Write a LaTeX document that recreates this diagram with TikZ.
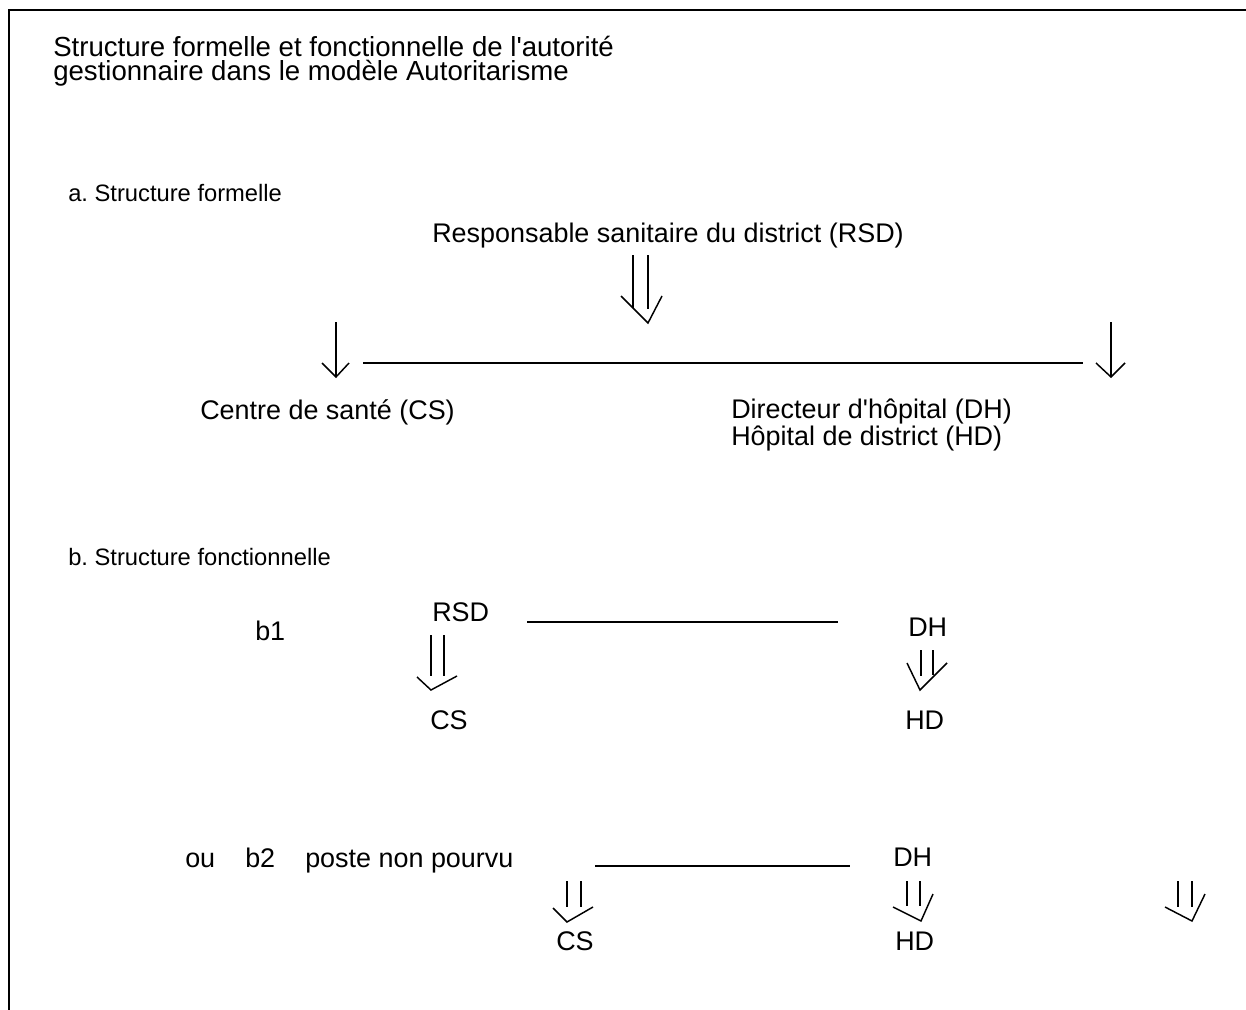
\documentclass[tikz,border=0pt]{standalone}
\usepackage{fontspec}
\setmainfont{Liberation Sans}[Ligatures=TeXOff]
\frenchspacing
\begin{document}
\begin{tikzpicture}[x=0.75pt,y=-0.75pt,
  lbl/.style={anchor=base west,inner sep=0pt,font=\fontsize{20.2}{18}\selectfont},
  head/.style={lbl,font=\fontsize{17.8}{18}\selectfont},
  stroke/.style={line width=1.1pt,line cap=butt,line join=miter},
  link/.style={line width=1.2pt},
  frame/.style={line width=1.6pt}]
\useasboundingbox (0,0) rectangle (1246,1010);
% open frame: left and top edges only
\draw[frame] (9,1010) -- (9,10) -- (1246,10);

% title, two lines (anchored on the last baseline)
\node[lbl,align=left,font=\fontsize{20.7}{18}\selectfont] (title) at (53,80)
  {Structure formelle et fonctionnelle de l'autorité\\gestionnaire dans le modèle Autoritarisme};

% a. formal structure
\node[head] (secA) at (68,201) {a. Structure formelle};
\node[lbl] (rsdA) at (432,242) {Responsable sanitaire du district (RSD)};
\node[lbl] (csA) at (200,419) {Centre de santé (CS)};
\node[lbl] (dhA) at (731,418) {Directeur d'hôpital (DH)};
\node[lbl] (hdA) at (731,445) {Hôpital de district (HD)};

\coordinate (rsdTip) at (648,323);
\draw[stroke] (633,255) -- (633,308) (648,255) -- (648,309);
\draw[stroke] (621,296) -- (rsdTip) -- (662,296);

\coordinate (csTip) at (336,377);
\coordinate (hdTip) at (1111,377);
\draw[stroke] (336,322) -- (csTip);
\draw[stroke] (322,363) -- (csTip) -- (349,363);
\draw[stroke] (1111,322) -- (hdTip);
\draw[stroke] (1096,363) -- (hdTip) -- (1125,363);
\coordinate (linkAl) at (363,363);
\coordinate (linkAr) at (1083,363);
\draw[link] (linkAl) -- (linkAr);

% b. functional structure
\node[head] (secB) at (68,565) {b. Structure fonctionnelle};

% b1
\node[lbl] (bOne) at (255,640) {b1};
\node[lbl] (rsdB) at (432,621) {RSD};
\node[lbl] (dhB) at (908,636) {DH};
\node[lbl] (csB) at (430,729) {CS};
\node[lbl] (hdB) at (905,729) {HD};

\coordinate (linkBl) at (527,622);
\coordinate (linkBr) at (838,622);
\draw[link] (linkBl) -- (linkBr);

\coordinate (csBTip) at (431,690);
\draw[stroke] (431,635) -- (431,676) (444,635) -- (444,676);
\draw[stroke] (417,677) -- (csBTip) -- (457,676);

\coordinate (hdBTip) at (920,690);
\draw[stroke] (921,650) -- (921,676) (933,650) -- (933,675);
\draw[stroke] (907,663) -- (hdBTip) -- (947,663);

% b2
\node[lbl] (ou) at (185,867) {ou};
\node[lbl] (bTwo) at (245,867) {b2};
\node[lbl] (vacant) at (305,867) {poste non pourvu};
\node[lbl] (dhC) at (893,866) {DH};
\node[lbl] (csC) at (556,950) {CS};
\node[lbl] (hdC) at (895,950) {HD};

\coordinate (linkCl) at (595,866);
\coordinate (linkCr) at (850,866);
\draw[link] (linkCl) -- (linkCr);

\coordinate (csCTip) at (567,922);
\draw[stroke] (567,881) -- (567,907) (581,881) -- (581,907);
\draw[stroke] (553,908) -- (csCTip) -- (593,907);

\coordinate (hdCTip) at (921,921);
\draw[stroke] (907,881) -- (907,906) (920,881) -- (920,906);
\draw[stroke] (893,907) -- (hdCTip) -- (933,894);

\coordinate (extraTip) at (1192,921);
\draw[stroke] (1178,881) -- (1178,907) (1192,881) -- (1192,907);
\draw[stroke] (1165,907) -- (extraTip) -- (1205,894);
\end{tikzpicture}
\end{document}
